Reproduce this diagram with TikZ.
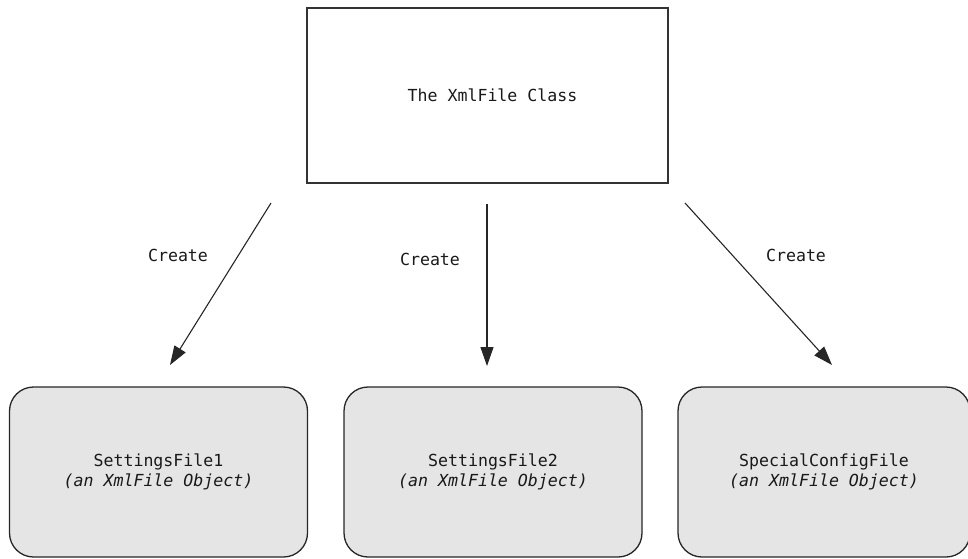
\documentclass[tikz,border=0pt]{standalone}
\usepackage{fontspec}
\setmainfont{DejaVu Sans Mono}
\usetikzlibrary{arrows.meta}
\begin{document}
\begin{tikzpicture}[x=1pt,y=-1pt,
  every node/.style={font=\fontsize{16.6}{20}\selectfont, text=black!90},
  classbox/.style={draw=black!80, line width=1.6pt, fill=white, minimum width=361pt, minimum height=175pt, inner sep=0pt},
  objbox/.style={draw=black!85, line width=1.3pt, fill=black!10, rounded corners=24pt, minimum height=170pt, inner sep=0pt, align=center},
  createarrow/.style={draw=black!85, line width=1.1pt, -{Triangle[length=19pt,width=13pt]}},
  lbl/.style={inner sep=0pt}]
\useasboundingbox (0,0) rectangle (968,558);
\begin{scope}
\clip (0,0) rectangle (968,558);
\node[classbox] (cls) at (487.5,95.5) {\hspace*{10pt}The XmlFile Class};
\node[objbox, minimum width=298pt] (o1) at (158.5,472) {SettingsFile1\\\itshape (an XmlFile Object)};
\node[objbox, minimum width=298pt] (o2) at (493,472) {SettingsFile2\\\itshape (an XmlFile Object)};
\node[objbox, minimum width=292pt] (o3) at (824,472) {SpecialConfigFile\\\itshape (an XmlFile Object)};
\end{scope}
\coordinate (a1s) at (271,203);
\coordinate (a1e) at (170,365);
\coordinate (a2s) at (487,204);
\coordinate (a2e) at (487,366);
\coordinate (a3s) at (685,203);
\coordinate (a3e) at (832,365);
\draw[createarrow] (a1s) -- (a1e);
\draw[createarrow] (a2s) -- (a2e);
\draw[createarrow] (a3s) -- (a3e);
\node[lbl] (l1) at (178,255) {Create};
\node[lbl] (l2) at (430,259) {Create};
\node[lbl] (l3) at (796,255) {Create};
\end{tikzpicture}
\end{document}
